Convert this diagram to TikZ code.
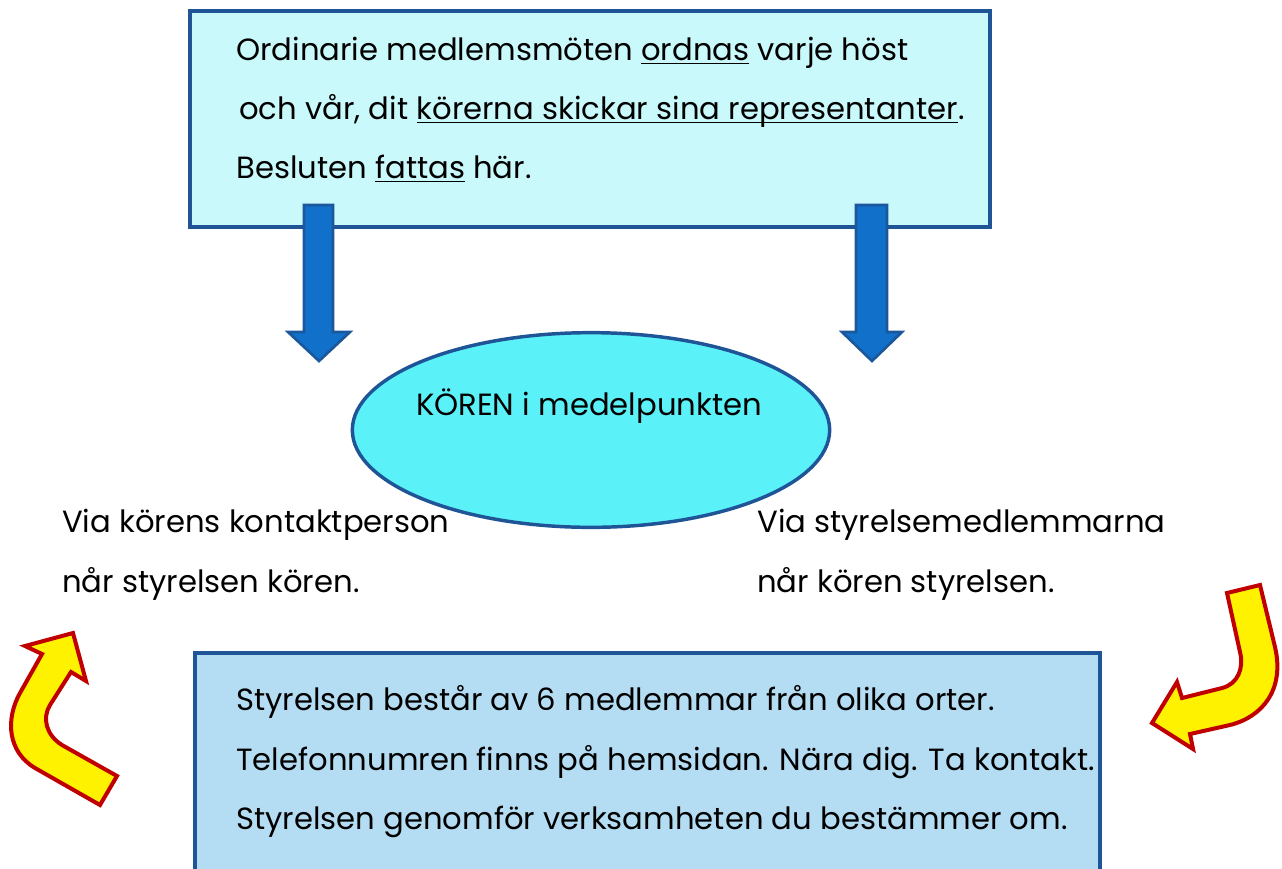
\documentclass[tikz,border=0pt]{standalone}
\usepackage{fontspec}
\setmainfont{Poppins}
\usetikzlibrary{shapes.geometric}
\definecolor{boxline}{HTML}{1F5597}
\definecolor{topfill}{HTML}{C9F9FB}
\definecolor{botfill}{HTML}{B4DDF3}
\definecolor{ellfill}{HTML}{5BF1F8}
\definecolor{arrfill}{HTML}{1170C9}
\definecolor{arrline}{HTML}{1B579B}
\definecolor{redline}{HTML}{C00000}
\newcommand\txtfont{\fontsize{23}{27}\selectfont}
\newcommand\myul[1]{\leavevmode\setbox0\hbox{#1}\rlap{\raisebox{-3.2pt}{\rule{\wd0}{1.3pt}}}\box0\relax}
\tikzset{
  boxstyle/.style={draw=boxline, line width=2.6pt},
  linetext/.style={anchor=base west, inner sep=0pt, font=\txtfont, text=black},
  bluearrow/.style={fill=arrfill, draw=arrline, line width=2pt, line join=miter},
  yellowarrow/.style={fill=yellow, draw=redline, line width=3pt, line join=miter}
}
\begin{document}
\begin{tikzpicture}[x=0.75pt,y=-0.75pt]
\useasboundingbox (0,0) rectangle (1282,868);
\clip (0,0) rectangle (1282,868);
% top box
\draw[boxstyle, fill=topfill] (190,11) rectangle (990,227);
\node[linetext] (t1) at (236,60) {Ordinarie medlemsmöten \myul{ordnas} varje höst};
\node[linetext] (t2) at (239,119) {och vår, dit \myul{körerna skickar sina representanter}.};
\node[linetext] (t3) at (236,178) {Besluten \myul{fattas} här.};
% blue arrows
\draw[bluearrow] (304,205) -- (333,205) -- (333,332) -- (350,332) -- (319,361) -- (288,332) -- (304,332) -- cycle;
\draw[bluearrow] (856,205) -- (887,205) -- (887,332) -- (902,332) -- (872,361) -- (842,332) -- (856,332) -- cycle;
% ellipse
\node[ellipse, draw=boxline, line width=2.6pt, fill=ellfill, minimum width=358pt, minimum height=146pt, inner sep=0pt] (koren) at (591,430) {};
\node[linetext, anchor=base] (kt) at (589,415) {KÖREN i medelpunkten};
% side texts
\node[linetext] (l1) at (62,532) {Via körens kontaktperson};
\node[linetext] (l2) at (62,592) {når styrelsen kören.};
\node[linetext] (r1) at (757,532) {Via styrelsemedlemmarna};
\node[linetext] (r2) at (757,592) {når kören styrelsen.};
% bottom box
\draw[boxstyle, fill=botfill] (195,653) rectangle (1100,880);
\node[linetext] (b1) at (236,710) {Styrelsen består av 6 medlemmar från olika orter.};
\node[linetext] (b2) at (236,770) {Telefonnumren finns på hemsidan. Nära dig. Ta kontakt.};
\node[linetext] (b3) at (236,829) {Styrelsen genomför verksamheten du bestämmer om.};
% yellow arrows
\draw[yellowarrow] (73,633) -- (86,681) -- (71,672) -- (50,705)
  .. controls (42,718) and (46,735) .. (62,745)
  -- (117,776) -- (100,805) -- (35,768)
  .. controls (8,752) and (5,720) .. (20,693)
  -- (42,654) -- (25,646) -- cycle;
\draw[yellowarrow] (1152,723) -- (1177,682) -- (1182,698) -- (1222,688)
  .. controls (1238,684) and (1244,668) .. (1240,652)
  -- (1227,593) -- (1260,585) -- (1275,647)
  .. controls (1285,690) and (1262,717) .. (1230,725)
  -- (1190,734) -- (1193,749) -- cycle;
\end{tikzpicture}
\end{document}
